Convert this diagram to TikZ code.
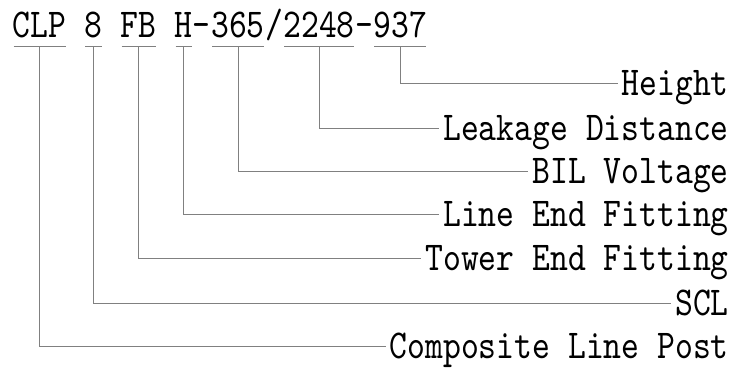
\documentclass[tikz,border=0pt]{standalone}
\usepackage{fontspec}
\newfontfamily\codefont{lmmono10-regular.otf}[FakeStretch=0.829]
\usetikzlibrary{positioning}
\newcommand\chw{17.85pt}

\tikzset{
  code/.style={inner sep=0pt,text height=25pt,text depth=0pt,
               font=\codefont\fontsize{41}{41}\selectfont},
  tag/.style={code,inner xsep=4pt,text depth=1pt,anchor=base east},
  lead/.style={draw=black!50,line width=0.9pt},
}

\begin{document}
\begin{tikzpicture}[x=1pt,y=-1pt]
  \useasboundingbox (0,0) rectangle (732,368);

  % type designation
  \node[code,anchor=base west] (clp) at (12.7,37.3) {CLP};
  \node[code,right=\chw of clp] (scl) {8};
  \node[code,right=\chw of scl] (fb) {FB};
  \node[code,right=\chw of fb] (h) {H};
  \node[code,right=0pt of h] (d1) {-};
  \node[code,right=0pt of d1] (bil) {365};
  \node[code,right=0pt of bil] (sl) {/};
  \node[code,right=0pt of sl] (ld) {2248};
  \node[code,right=0pt of ld] (d2) {-};
  \node[code,right=0pt of d2] (ht) {937};

  % meanings
  \node[tag] (lht)  at (733,95)    {Height};
  \node[tag] (lld)  at (733,140)   {Leakage Distance};
  \node[tag] (lbil) at (733,183)   {BIL Voltage};
  \node[tag] (lh)   at (733,226)   {Line End Fitting};
  \node[tag] (lfb)  at (733,270)   {Tower End Fitting};
  \node[tag] (lscl) at (733,315)   {SCL};
  \node[tag] (lclp) at (733,358.6) {Composite Line Post};

  \foreach \c/\l in {clp/lclp,scl/lscl,fb/lfb,h/lh,bil/lbil,ld/lld,ht/lht}{
    \draw[lead] ([shift={(1pt,-9.4pt)}]\c.south west) -- ([shift={(-1pt,-9.4pt)}]\c.south east);
    \draw[lead] ([yshift=-9.4pt]\c.south) |- (\l.west);
  }
\end{tikzpicture}
\end{document}
